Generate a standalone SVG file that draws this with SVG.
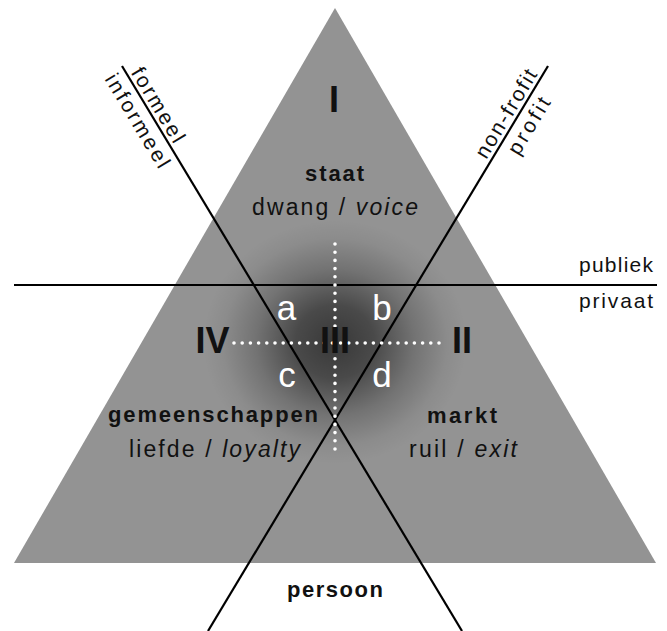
<svg xmlns="http://www.w3.org/2000/svg" width="667" height="631" viewBox="0 0 667 631">
<style>
text{font-family:"Liberation Sans",Arial,sans-serif;fill:#111;}
.b{font-weight:bold;font-size:22px;}
.n{font-size:23px;}
.s{font-size:21px;}
.num{font-weight:bold;font-size:36px;text-anchor:middle;}
.let{font-size:35px;fill:#fff;text-anchor:middle;}
.it{font-style:italic;}
.ln{stroke:#000;stroke-width:2.2;fill:none;}
.dot{stroke:#fff;stroke-width:3.6;stroke-linecap:round;stroke-dasharray:0 8.2;fill:none;}
</style>
<defs>
<radialGradient id="shade" cx="0.5" cy="0.5" r="0.5">
<stop offset="0" stop-color="#000" stop-opacity="0.62"/>
<stop offset="0.3" stop-color="#000" stop-opacity="0.5"/>
<stop offset="0.6" stop-color="#000" stop-opacity="0.22"/>
<stop offset="0.85" stop-color="#000" stop-opacity="0.05"/>
<stop offset="1" stop-color="#000" stop-opacity="0"/>
</radialGradient>
</defs>
<rect width="667" height="631" fill="#fff"/>
<g id="triangle">
<polygon points="335,8 14,563 656,563" fill="#939393"/>
<ellipse cx="335" cy="342" rx="132" ry="122" fill="url(#shade)"/>
</g>
<g id="connectors">
<line class="ln" x1="122" y1="66" x2="462" y2="631"/>
<line class="ln" x1="548" y1="66" x2="208" y2="631"/>
<line class="ln" x1="14" y1="285" x2="657" y2="285"/>
<line class="dot" x1="335" y1="244" x2="335" y2="455"/>
<line class="dot" x1="234" y1="343" x2="445" y2="343"/>
</g>
<g id="staat">
<text class="num" x="334" y="112">I</text>
<text class="b" x="305" y="181" textLength="59" lengthAdjust="spacing">staat</text>
<text class="n" x="252" y="215" textLength="166" lengthAdjust="spacing">dwang / <tspan class="it">voice</tspan></text>
</g>
<g id="gemeenschappen">
<text class="num" x="212.5" y="353">IV</text>
<text class="b" x="108" y="422" textLength="210" lengthAdjust="spacing">gemeenschappen</text>
<text class="n" x="129" y="457" textLength="171" lengthAdjust="spacing">liefde / <tspan class="it">loyalty</tspan></text>
</g>
<g id="markt">
<text class="num" x="462" y="353">II</text>
<text class="b" x="427" y="423" textLength="70" lengthAdjust="spacing">markt</text>
<text class="n" x="409" y="457" textLength="108" lengthAdjust="spacing">ruil / <tspan class="it">exit</tspan></text>
</g>
<g id="center">
<text class="num" x="335" y="353">III</text>
<text class="let" x="286.5" y="320">a</text>
<text class="let" x="382" y="320">b</text>
<text class="let" x="287" y="387">c</text>
<text class="let" x="382" y="387">d</text>
</g>
<g id="persoon">
<text class="b" x="287" y="597" textLength="96" lengthAdjust="spacing">persoon</text>
</g>
<g id="axis-labels">
<text class="s" x="579" y="272" textLength="74" lengthAdjust="spacing">publiek</text>
<text class="s" x="579" y="308" textLength="74" lengthAdjust="spacing">privaat</text>
<text class="s" transform="translate(130.6 72.5) rotate(58.96)" textLength="84" lengthAdjust="spacing">formeel</text>
<text class="s" transform="translate(104.2 79) rotate(58.96)" textLength="106" lengthAdjust="spacing">informeel</text>
<text class="s" transform="translate(486.3 160.1) rotate(-58.96)" textLength="100" lengthAdjust="spacing">non-frofit</text>
<text class="s" transform="translate(518.8 156.4) rotate(-58.96)" textLength="63" lengthAdjust="spacing">profit</text>
</g>
</svg>
